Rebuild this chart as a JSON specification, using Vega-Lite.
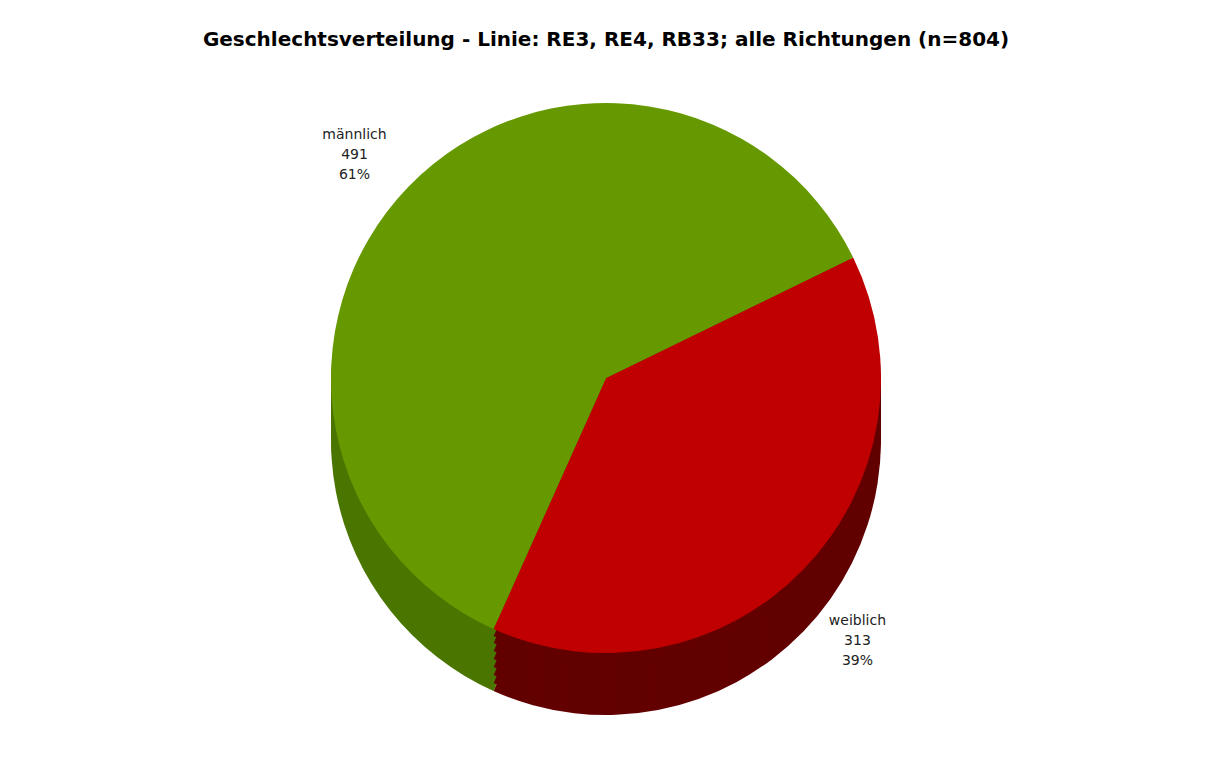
{
  "$schema": "https://vega.github.io/schema/vega-lite/v6.json",
  "width": 1212,
  "height": 782,
  "autosize": {"type": "fit", "contains": "padding"},
  "padding": {"top": 30, "left": 0, "right": 0, "bottom": 90},
  "background": "white",
  "config": {"view": {"stroke": null}},
  "title": {
    "text": "Geschlechtsverteilung - Linie: RE3, RE4, RB33; alle Richtungen (n=804)",
    "font": "DejaVu Sans",
    "fontSize": 20,
    "fontWeight": "bold",
    "color": "#000000",
    "anchor": "middle",
    "offset": 14
  },
  "data": {
    "values": [
      {"geschlecht": "weiblich", "anzahl": 313, "reihenfolge": 1, "label": "weiblich\n313\n39%"},
      {"geschlecht": "männlich", "anzahl": 491, "reihenfolge": 2, "label": "männlich\n491\n61%"}
    ]
  },
  "encoding": {
    "theta": {"field": "anzahl", "type": "quantitative", "stack": true, "scale": {"range": [1.117, 7.400]}},
    "order": {"field": "reihenfolge", "type": "quantitative"}
  },
  "resolve": {"scale": {"color": "independent"}},
  "layer": [
    {
      "mark": {"type": "arc", "outerRadius": 275, "yOffset": 62},
      "encoding": {
        "color": {"field": "geschlecht", "type": "nominal", "legend": null,
          "scale": {"domain": ["männlich", "weiblich"], "range": ["#4a7600", "#620000"]}}
      }
    },
    {
      "mark": {"type": "arc", "outerRadius": 275, "yOffset": 54},
      "encoding": {
        "color": {"field": "geschlecht", "type": "nominal", "legend": null,
          "scale": {"domain": ["männlich", "weiblich"], "range": ["#4a7600", "#620000"]}}
      }
    },
    {
      "mark": {"type": "arc", "outerRadius": 275, "yOffset": 46},
      "encoding": {
        "color": {"field": "geschlecht", "type": "nominal", "legend": null,
          "scale": {"domain": ["männlich", "weiblich"], "range": ["#4a7600", "#620000"]}}
      }
    },
    {
      "mark": {"type": "arc", "outerRadius": 275, "yOffset": 38},
      "encoding": {
        "color": {"field": "geschlecht", "type": "nominal", "legend": null,
          "scale": {"domain": ["männlich", "weiblich"], "range": ["#4a7600", "#620000"]}}
      }
    },
    {
      "mark": {"type": "arc", "outerRadius": 275, "yOffset": 30},
      "encoding": {
        "color": {"field": "geschlecht", "type": "nominal", "legend": null,
          "scale": {"domain": ["männlich", "weiblich"], "range": ["#4a7600", "#620000"]}}
      }
    },
    {
      "mark": {"type": "arc", "outerRadius": 275, "yOffset": 22},
      "encoding": {
        "color": {"field": "geschlecht", "type": "nominal", "legend": null,
          "scale": {"domain": ["männlich", "weiblich"], "range": ["#4a7600", "#620000"]}}
      }
    },
    {
      "mark": {"type": "arc", "outerRadius": 275, "yOffset": 14},
      "encoding": {
        "color": {"field": "geschlecht", "type": "nominal", "legend": null,
          "scale": {"domain": ["männlich", "weiblich"], "range": ["#4a7600", "#620000"]}}
      }
    },
    {
      "mark": {"type": "arc", "outerRadius": 275, "yOffset": 7},
      "encoding": {
        "color": {"field": "geschlecht", "type": "nominal", "legend": null,
          "scale": {"domain": ["männlich", "weiblich"], "range": ["#4a7600", "#620000"]}}
      }
    },
    {
      "mark": {"type": "arc", "outerRadius": 275},
      "encoding": {
        "color": {"field": "geschlecht", "type": "nominal", "legend": null,
          "scale": {"domain": ["männlich", "weiblich"], "range": ["#669900", "#c00000"]}}
      }
    },
    {
      "mark": {"type": "text", "radius": 350, "font": "DejaVu Sans", "fontSize": 14, "color": "#222222", "lineBreak": "\n", "lineHeight": 20, "align": "center", "baseline": "middle"},
      "encoding": {
        "text": {"field": "label", "type": "nominal"}
      }
    }
  ]
}
